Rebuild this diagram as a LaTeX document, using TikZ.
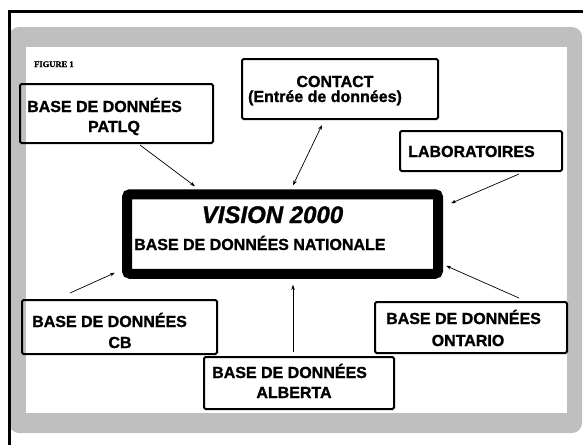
\documentclass[tikz,border=0pt]{standalone}
\usepackage{fontspec}
\setmainfont{Liberation Sans}[BoldFeatures={FakeBold=1.2}, BoldItalicFeatures={FakeBold=1.2}]
\newfontfamily\figfont{Liberation Serif}[BoldFeatures={FakeBold=1.5}]
\usetikzlibrary{arrows.meta, positioning}

\begin{document}
\begin{tikzpicture}[
    x=1pt, y=-1pt,
    box/.style={draw, rectangle, line width=2pt, rounded corners=1.5pt, inner sep=0pt, outer sep=0pt},
    mainbox/.style={draw, rectangle, line width=10pt, rounded corners=3pt, inner sep=0pt, outer sep=0pt},
    lbl/.style={inner sep=0pt, font=\fontsize{16}{19}\selectfont\bfseries},
    arrow/.style={-{Stealth[length=5pt,width=3.5pt]}, line width=0.7pt},
    dblarrow/.style={{Stealth[length=5pt,width=3.5pt]}-{Stealth[length=5pt,width=3.5pt]}, line width=0.7pt}
]
\useasboundingbox (0,0) rectangle (583,445);

% Frame
\fill[black!25, rounded corners=10pt] (9,27) rectangle (582,433);
\fill[white] (26,47) rectangle (567,413);
\draw[line width=3pt] (9,445) -- (9,11.5) -- (583,11.5);

\node (fig) [font=\figfont\fontsize{8.5}{10}\selectfont\bfseries, inner sep=0pt, anchor=base west] at (34,67) {FIGURE 1};

% Boxes
\node (vision) [mainbox, minimum width=311pt, minimum height=79.5pt] at (282.5,234) {};
\node (patlq) [box, minimum width=193pt, minimum height=59pt] at (116.5,113.5) {};
\node (contact) [box, minimum width=196pt, minimum height=60pt] at (340,89) {};
\node (labo) [box, minimum width=162pt, minimum height=40pt] at (481,151) {};
\node (cb) [box, minimum width=195pt, minimum height=54pt] at (119.5,327) {};
\node (alberta) [box, minimum width=190pt, minimum height=52pt] at (299,383) {};
\node (ontario) [box, minimum width=192pt, minimum height=51pt] at (471,327.5) {};

% Labels
\node (visionA) [font=\fontsize{24}{28}\selectfont\bfseries\itshape, inner sep=0pt, anchor=base] at (272.5,223) {VISION 2000};
\node (visionB) [lbl, anchor=base west] at (134,250) {BASE DE DONNÉES NATIONALE};
\node (patlqA) [lbl, anchor=base west] at (27,112) {BASE DE DONNÉES};
\node (patlqB) [lbl, anchor=base] at (114,132) {PATLQ};
\node (contactA) [lbl, anchor=base] at (335,87) {CONTACT};
\node (contactB) [lbl, anchor=base] at (325,102) {(Entrée de données)};
\node (laboA) [lbl, anchor=base west] at (408,157) {LABORATOIRES};
\node (cbA) [lbl, anchor=base west] at (32,327) {BASE DE DONNÉES};
\node (cbB) [lbl, anchor=base] at (120,348) {CB};
\node (albertaA) [lbl, anchor=base west] at (212,378) {BASE DE DONNÉES};
\node (albertaB) [lbl, anchor=base] at (294,398) {ALBERTA};
\node (ontarioA) [lbl, anchor=base west] at (386,324) {BASE DE DONNÉES};
\node (ontarioB) [lbl, anchor=base] at (468,346) {ONTARIO};

% Paths
\draw [arrow] ([xshift=23.5pt,yshift=-2pt]patlq.south) -- ([xshift=-87.5pt,yshift=8pt]vision.north);
\draw [dblarrow] ([xshift=-18pt,yshift=-6pt]contact.south) -- ([xshift=10.5pt,yshift=9pt]vision.north);
\draw [arrow] ([xshift=38pt,yshift=-3pt]labo.south) -- ([xshift=13pt,yshift=-9pt]vision.north east);
\draw [arrow] ([xshift=-49.5pt,yshift=7pt]cb.north) -- ([xshift=-12pt,yshift=1pt]vision.south west);
\draw [arrow] ([xshift=-6pt,yshift=5pt]alberta.north) -- ([xshift=10.5pt,yshift=-11pt]vision.south);
\draw [arrow] ([xshift=48pt,yshift=4pt]ontario.north) -- ([xshift=8pt,yshift=8pt]vision.south east);

\end{tikzpicture}
\end{document}
